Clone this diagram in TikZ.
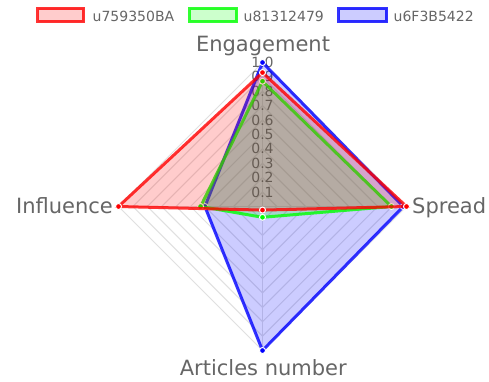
\documentclass[tikz,border=0pt]{standalone}
\usepackage{fontspec}
\setmainfont{DejaVu Sans}
\definecolor{txt}{HTML}{666666}
\definecolor{cred}{RGB}{255,0,0}
\definecolor{cgreen}{RGB}{0,255,0}
\definecolor{cblue}{RGB}{0,0,255}
\tikzset{
  gridline/.style={draw=black!12, line width=1pt},
  ticklbl/.style={text=txt, inner sep=0pt, font=\fontsize{14}{14}\selectfont},
  axislbl/.style={text=txt, inner sep=0pt, font=\fontsize{21}{21}\selectfont},
  legtxt/.style={text=txt, inner sep=0pt, font=\fontsize{14}{14}\selectfont, anchor=base west},
  legbox/.style={line width=3pt, draw=#1, draw opacity=0.8, fill=#1, fill opacity=0.2},
  dsfill/.style={fill=#1, fill opacity=0.2},
  dsline/.style={draw=#1, draw opacity=0.8, line width=3pt, line join=miter},
  dspt/.style={circle, minimum size=6pt, inner sep=0pt, fill=#1, draw=white, line width=1pt},
}
\newcommand{\radarset}[6]{%
  \coordinate (#2e) at (262.5,{206.5-144*#3});
  \coordinate (#2s) at ({262.5+144*#4},206.5);
  \coordinate (#2a) at (262.5,{206.5+144*#5});
  \coordinate (#2i) at ({262.5-144*#6},206.5);
  \fill[dsfill=#1] (#2e) -- (#2s) -- (#2a) -- (#2i) -- cycle;
  \draw[dsline=#1] (#2e) -- (#2s) -- (#2a) -- (#2i) -- cycle;
  \node[dspt=#1] (#2pe) at (#2e) {};
  \node[dspt=#1] (#2ps) at (#2s) {};
  \node[dspt=#1] (#2pa) at (#2a) {};
  \node[dspt=#1] (#2pi) at (#2i) {};
}
\begin{document}
\begin{tikzpicture}[x=1pt,y=-1pt]
\useasboundingbox[fill=white] (0,0) rectangle (489,382);
\coordinate (O) at (262.5,206.5);
% grid rings
\foreach \k in {1,...,10}{
  \draw[gridline] (262.5,{206.5-14.4*\k}) -- ({262.5+14.4*\k},206.5) -- (262.5,{206.5+14.4*\k}) -- ({262.5-14.4*\k},206.5) -- cycle;
}
\coordinate (E) at (262.5,62.5);
\coordinate (S) at (406.5,206.5);
\coordinate (A) at (262.5,350.5);
\coordinate (I) at (118.5,206.5);
\draw[gridline] (O) -- (E);
\draw[gridline] (O) -- (S);
\draw[gridline] (O) -- (A);
\draw[gridline] (O) -- (I);
% tick labels
\foreach \k/\t in {1/0.1,2/0.2,3/0.3,4/0.4,5/0.5,6/0.6,7/0.7,8/0.8,9/0.9,10/1.0}{
  \node[ticklbl] (tick\k) at (262.5,{206.5-14.4*\k}) {\t};
}
% datasets (blue first, red on top)
\radarset{cblue}{b}{1.0}{0.978}{1.0}{0.40}
\radarset{cgreen}{g}{0.87}{0.895}{0.075}{0.43}
\radarset{cred}{r}{0.93}{1.0}{0.025}{1.0}
% axis labels
\node[axislbl, anchor=base] (lE) at (263,51.7) {Engagement};
\node[axislbl, anchor=base west] (lS) at (412,213.3) {Spread};
\node[axislbl, anchor=base east] (lI) at (113,213.3) {Influence};
\node[axislbl, anchor=base] (lA) at (263.3,375) {Articles number};
% legend
\draw[legbox=cred] (37.5,8.3) rectangle (83.5,21.8);
\node[legtxt] (leg1) at (92.5,21.5) {u759350BA};
\draw[legbox=cgreen] (189.5,8.3) rectangle (236.5,21.8);
\node[legtxt] (leg2) at (243.5,21.5) {u81312479};
\draw[legbox=cblue] (338.5,8.3) rectangle (386.5,21.8);
\node[legtxt] (leg3) at (393.5,21.5) {u6F3B5422};
\end{tikzpicture}
\end{document}
